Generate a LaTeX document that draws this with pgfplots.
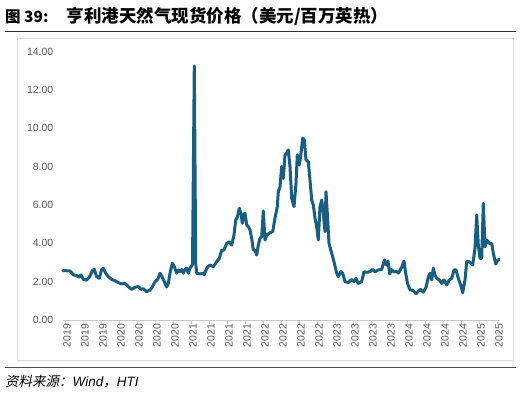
\documentclass[border=0pt]{standalone}
\usepackage{pgfplots}
\pgfplotsset{compat=1.18}
\usepackage{fontspec}
\setmainfont{Liberation Sans}
\newfontfamily\cjk{Noto Sans CJK SC}
\newfontfamily\cjkit{Noto Sans CJK SC}[FakeSlant=0.2]
\definecolor{series}{RGB}{24,94,128}
\definecolor{ticklab}{RGB}{89,89,89}
\definecolor{framec}{RGB}{217,217,217}
\definecolor{axisc}{RGB}{200,200,200}
\definecolor{rulec}{RGB}{45,45,45}

\pgfplotstableread{
x v
63 2.57
66 2.57
70 2.56
73.3 2.36
76.7 2.31
79 2.23
81 2.35
83.3 2.12
86.7 2.09
89.3 2.23
92.3 2.57
94.3 2.64
96.7 2.26
99.3 2.18
101.7 2.64
103.3 2.70
105.7 2.44
108.3 2.26
111.7 2.12
115 2.05
118.3 1.95
121.7 1.88
125 1.91
128.3 1.74
131.7 1.60
135 1.71
138.3 1.74
141 1.60
143.3 1.63
146.7 1.48
150 1.56
152.3 1.71
155 2.00
157.7 2.12
160 2.44
161.7 2.30
165 1.91
166.7 1.72
168.3 1.91
170 2.44
172.3 2.96
174.3 2.78
176.7 2.44
178.3 2.61
180 2.52
181.7 2.64
183.3 2.44
185 2.64
186.7 2.70
188.3 2.44
190 2.70
192.5 2.90
194.3 13.25
195.7 2.95
196.7 2.44
200 2.40
203.3 2.44
204 2.35
207.3 2.75
210 2.87
213.3 2.78
216.7 3.04
219.3 3.22
221.7 3.65
224 3.65
226.7 4.00
229.3 4.08
231.7 3.91
234 4.43
235.7 5.22
237.3 5.36
239.3 5.83
241 5.57
242.3 5.04
243.7 5.48
245 5.57
246.7 4.96
248.3 4.87
250 4.69
251.7 4.26
253.3 3.65
255 3.65
256.7 3.39
258.3 3.91
260 4.26
261.7 4.35
263.3 5.69
265 4.17
266.7 4.43
270 4.55
272.7 4.61
275 5.32
277.3 5.91
278.3 6.69
280 6.95
281.7 8.00
283.3 7.39
285 8.61
286.7 8.70
288.3 8.87
290 8.00
291.7 6.35
294 5.91
296 7.13
297.3 8.61
299.3 8.09
301 8.70
302.7 9.48
304.3 9.39
306 8.35
308.3 8.26
310 7.30
311.7 6.26
313.3 6.00
315 5.31
316.7 4.87
318.3 4.17
320 5.91
321.7 6.26
323.3 5.57
325 4.61
326 6.69
327.3 5.57
329 4.00
331.7 3.48
334 3.04
336.7 2.44
338.3 2.26
340.7 2.52
342.7 2.44
345 2.00
348.3 1.95
351.7 2.12
354 2.00
356 2.17
358.3 1.91
361.7 2.00
364 2.52
366.7 2.49
370 2.52
372.7 2.64
375 2.52
378.3 2.61
381.7 2.64
384.5 3.13
386.3 2.87
388 3.07
389.7 2.40
391.5 2.63
394 2.50
396 2.55
398.5 2.45
401.7 2.75
404 3.08
405.5 2.50
407.5 1.90
410 1.58
413.3 1.53
416 1.37
418.3 1.50
420.7 1.60
423.3 1.45
426 1.70
428.3 2.23
430 2.44
431.7 2.09
433.3 2.70
435 2.35
436.7 2.17
439.3 2.09
441.7 1.91
444 2.09
446.7 1.83
449.3 2.09
451.7 2.17
454 2.61
456 2.61
458.3 2.17
460.7 1.83
462.7 1.42
465 2.09
466.7 3.04
469.3 3.04
472.7 2.87
475 3.74
476.7 5.48
478.3 3.91
480 3.22
481.7 3.22
483.3 6.09
485 3.82
486.7 4.17
489.3 4.00
491.7 4.00
493.3 3.48
495.7 2.92
497.3 3.09
499 3.17
}\gasdata

\begin{document}
\begin{tikzpicture}
\path[use as bounding box] (0bp,0bp) rectangle (521bp,-395bp);
% title
\node[anchor=west, inner sep=0pt] at (5bp,-17bp) {\cjk\bfseries\fontsize{15.5bp}{18bp}\selectfont 图 39:\hspace{18bp}\fontsize{17.5bp}{20bp}\selectfont 亨利港天然气现货价格（美元/百万英热）};
\draw[rulec, line width=1.3bp] (5bp,-31.5bp) -- (516bp,-31.5bp);
% frame
\draw[framec, line width=0.8bp] (17bp,-38bp) rectangle (513bp,-360bp);
% bottom rule
\draw[rulec!85!white, line width=1.3bp] (5bp,-367.5bp) -- (516bp,-367.5bp);
% source
\node[anchor=west, inner sep=0pt] at (5bp,-382bp) {\fontsize{13.5bp}{16bp}\selectfont\cjkit 资料来源：{\rmfamily\itshape Wind}，{\rmfamily\itshape HTI}};
\begin{axis}[
  at={(63bp,-320bp)}, anchor=south west,
  scale only axis, width=437bp, height=268.4bp,
  xmin=63, xmax=500, ymin=0, ymax=14,
  clip=false,
  axis x line*=bottom, axis y line*=left,
  y axis line style={draw=none},
  x axis line style={draw=axisc, line width=0.8bp},
  ytick={0,2,4,6,8,10,12,14},
  y tick style={draw=none},
  yticklabel style={font=\fontsize{10.5bp}{12bp}\selectfont, color=ticklab, inner sep=0pt, anchor=east, xshift=-6bp,
    /pgf/number format/fixed, /pgf/number format/fixed zerofill, /pgf/number format/precision=2, /pgf/number format/assume math mode=true},
  xtick={65,83,101,119,137,155,173,191,209,227,245,263,281,299,317,335,353,371,389,407,425,443,461,479,497},
  xticklabels={2019,2019,2019,2020,2020,2020,2020,2021,2021,2021,2021,2022,2022,2022,2022,2023,2023,2023,2023,2024,2024,2024,2024,2025,2025},
  xticklabel style={rotate=90, anchor=east, font=\fontsize{10.5bp}{12bp}\selectfont, color=ticklab, inner sep=0pt, yshift=-2bp},
  x tick style={draw=axisc, line width=0.8bp},
  tick align=outside, major tick length=3.5bp,
]
\addplot[color=series, line width=3bp, line join=round, line cap=round] table[x=x, y=v] {\gasdata};
\end{axis}
\end{tikzpicture}
\end{document}
